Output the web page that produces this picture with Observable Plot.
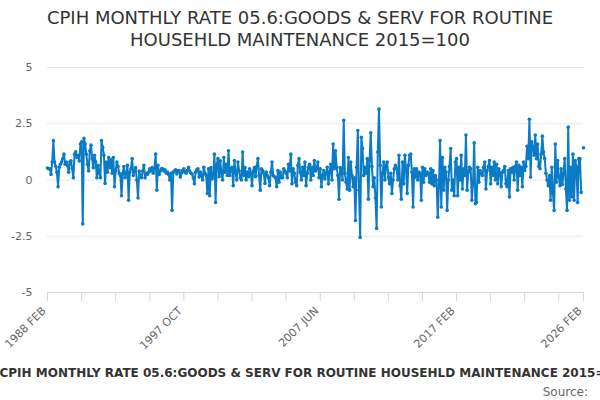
<!DOCTYPE html>
<html>
<head>
<meta charset="utf-8">
<script src="https://cdn.jsdelivr.net/npm/d3@7"></script>
<script src="https://cdn.jsdelivr.net/npm/@observablehq/plot@0.6"></script>
<style>
  html, body { margin: 0; padding: 0; background: #fff; width: 600px; height: 400px; overflow: hidden; }
  body { font-family: "DejaVu Sans", sans-serif; position: relative; }
  #title { text-align: center; color: #333; font-size: 18px; line-height: 22px; height: 56px; padding-top: 7px; box-sizing: border-box; }
  #chart svg { display: block; }
  #xtitle { position: absolute; top: 366px; left: 315px; transform: translateX(-50%); white-space: nowrap; font-weight: bold; font-size: 12px; color: #333; }
  #source { position: absolute; top: 385px; right: 12px; font-size: 12px; color: #666; }
</style>
</head>
<body>
<div id="title">CPIH MONTHLY RATE 05.6:GOODS &amp; SERV FOR ROUTINE<br>HOUSEHLD MAINTENANCE 2015=100</div>
<div id="chart"></div>
<div id="xtitle">CPIH MONTHLY RATE 05.6:GOODS &amp; SERV FOR ROUTINE HOUSEHLD MAINTENANCE 2015=100</div>
<div id="source">Source:</div>
<script>
// Monthly rate (%), 1988 FEB .. 2026 FEB, one value per month (index 0 = 1988 FEB)
const rate1988 = [0.53,0.5,0.5,0.25,0.8,1.75,0.8,0.6,0.35,-0.3,
  0.57,0.7,0.8,0.95,1.15,0.7,0.8,0.65,0.35,0.8,
  0.85,0.5,0.1,1.15,1.25,1.0,1.1,0.85,1.6,1.7,
  -1.95,1.85,1.6,1.15,0.7,0.4,1.3,1.55,0.95,0.55,
  1.1,0.8,0.1,0.65,0.3,0.1,1.75,1.45,1.1,-0.15,
  0.8,0.35,1.0,0.55];
const rate1992 = [0.9,0.3,1.0,-0.3,0.4,0.8,0.6,0.3,0.2,-0.7,
  0.3,0.6,0.1,0.3,0.65,-0.9,0.35,0.5,0.95,0.2,
  0.4,0.55,0.0,-0.8,0.4,0.2,0.1,0.4,0.65,0.1,
  0.3,0.25,0.35,0.5,0.4,0.55,0.3,0.5,1.15,-0.45,
  0.65,0.25,0.4,0.5,0.5,0.4,0.45,0.3,0.35,0.25,
  0.0,0.3,-1.35,0.35,0.4,0.45];
const rate1997 = [0.27,0.42,0.42,0.13,0.3,0.42,0.5,0.35,0.3,0.42,
  0.57,0.4,0.3,0.27,0.1,-0.17,0.35,0.45,0.5,0.13,
  0.35,0.2,0.0,0.57,0.3,0.2,-0.6,0.5,-0.7,0.55,
  0.05,0.2,1.15,-1.0,0.7,0.95,0.15,0.85,0.3,0.0,
  1.0,0.35,0.7,0.2,1.3,0.2,0.5];
const rate2001 = [0.57,-0.25,0.87,0.35,0.0,0.8,0.4,0.1,0.0,1.24,
  0.2,0.55,0.0,0.35,0.15,0.5,0.3,-0.25,0.4,0.55,
  0.15,0.6,0.95,0.2,-0.45,0.5,0.42,0.3,-0.15,0.35,
  0.2,0.1,-0.25,0.35,0.8,0.2,0.15,0.1,-0.3,0.42,
  -0.1,0.35,0.1,0.1,0.5,0.4];
const rate2005 = [0.3,0.1,0.7,0.4,1.15,-0.17,0.5,0.3,-0.1,-0.25,
  0.65,0.95,0.35,0.0,0.57,0.2,0.8,-0.25,0.3,0.57,
  0.7,0.0,0.57,0.2,0.87,0.4,0.5,0.8,0.1,0.5,
  -0.3,0.2,0.42,0.05,0.3,0.57,-0.17,0.35,0.7,0.0,
  1.6,0.5,1.3,0.57,0.2,-0.85,0.55];
const rate2009 = [0.5,0.0,2.65,0.3,-0.1,-0.4,1.0,-0.45,0.8,0.2,
  -0.3,0.1,-1.8,0.57,2.2,-0.45,-2.55,1.9,1.4,0.2,
  0.57,0.3,0.95,-0.85,0.87,2.1,0.6,-0.3,0.1,-0.8,
  -2.15,1.24,3.15,0.65,-1.2,0.3,0.8,0.0,0.65,0.8,
  0.1,-0.17,0.3,-0.6,0.0,0.5,0.65];
const rate2013 = [0.5,0.0,1.1,-0.25,-0.85,0.8,-0.17,1.1,0.55,-0.6,
  0.65,1.1,1.15,0.35,-1.2,0.5,0.13,0.5,0.0,0.35,
  0.3,-0.9,0.57,-0.1,0.5,0.2,0.35,0.3,-0.1,0.5,
  -0.17,0.42,-0.25,0.2,0.0,-1.65,-0.3,1.75,-1.2,1.0,
  -0.45,0.57,0.35,-1.35,0.0,0.6,1.4];
const rate2016 = [-0.45,0.0,-0.7,0.8,0.95,-0.7,0.57,0.0,1.1,-0.4,
  0.5,0.2,2.0,-0.45,0.35,0.57,0.5,-0.9,-0.17,1.65,
  -1.05,-1.0,0.57,-0.1,0.42,0.3,0.2,0.57,0.8,-0.4,
  0.42,0.6,0.87,-0.17,0.57,0.2,0.8,0.0,0.7,-0.17,
  0.5,0.3,-0.3,0.35,0.42,0.6,-0.17];
const rate2020 = [-0.3,0.42,-0.75,0.5,0.35,0.57,0.0,0.6,0.8,-0.45,
  0.65,0.2,0.57,-0.3,0.8,0.42,0.6,1.5,0.95,2.7,
  0.13,1.7,1.45,1.1,2.0,0.95,1.6,0.6,0.5,1.15,
  1.95,1.24,0.95,0.3,0.0,-0.25,0.2,-0.9,0.57,-0.6,
  -1.35,1.6,-0.1,0.87,0.13,-0.25];
const rate2024 = [0.5,-0.2,0.3,0.95,-0.4,-1.35,2.35,-0.9,0.57,-0.75,
  1.15,-0.9,0.87,0.57,-1.0,0.95,0.95,-0.55,null,1.43];

const rate = [].concat(rate1988, rate1992, rate1997, rate2001, rate2005,
                       rate2009, rate2013, rate2016, rate2020, rate2024);

// Axis ticks (month index from 1988 FEB) and labels
const xTickIndex = [0,29,58,87,116,145,174,203,232,261,290,319,348,377,406,435,456];
const xLabelIndex = [0,116,232,348,456];
const xLabels = ["1988 FEB","1997 OCT","2007 JUN","2017 FEB","2026 FEB"];
const yTicks = [-5,-2.5,0,2.5,5];

const data = rate.map((v, i) => ({i, v}));
const labelData = xLabelIndex.map((k, j) => ({i: k, label: xLabels[j]}));
const blue = "#0a7bc4";

const chart = Plot.plot({
  width: 600,
  height: 300,
  marginTop: 11,
  marginBottom: 64,
  marginLeft: 47,
  marginRight: 17,
  style: {fontFamily: "DejaVu Sans, sans-serif", fontSize: "11px", background: "#fff"},
  x: {type: "linear", domain: [0, 456], axis: null},
  y: {domain: [-5, 5], axis: null},
  marks: [
    Plot.gridY(yTicks, {stroke: "#e6e6e6", strokeOpacity: 1}),
    Plot.ruleY([-5], {stroke: "#ccd6eb"}),
    Plot.axisY(yTicks, {label: null, tickSize: 0, tickPadding: 15, fill: "#666", tickFormat: d => String(d), fontSize: 11}),
    Plot.axisX(xTickIndex, {label: null, anchor: "bottom", tickSize: 9, tickFormat: () => "", stroke: "#ccd6eb", strokeOpacity: 1}),
    Plot.text(labelData, {x: "i", text: "label", frameAnchor: "bottom", dx: -1, dy: 19,
      rotate: -45, textAnchor: "end", lineAnchor: "bottom", fill: "#666", fontSize: 11}),
    Plot.lineY(data, {x: "i", y: "v", stroke: blue, strokeWidth: 2, curve: "linear"}),
    Plot.dot(data.filter(d => d.v != null), {x: "i", y: "v", r: 1.8, fill: blue, stroke: "none"})
  ]
});
document.getElementById("chart").appendChild(chart);
</script>
</body>
</html>
